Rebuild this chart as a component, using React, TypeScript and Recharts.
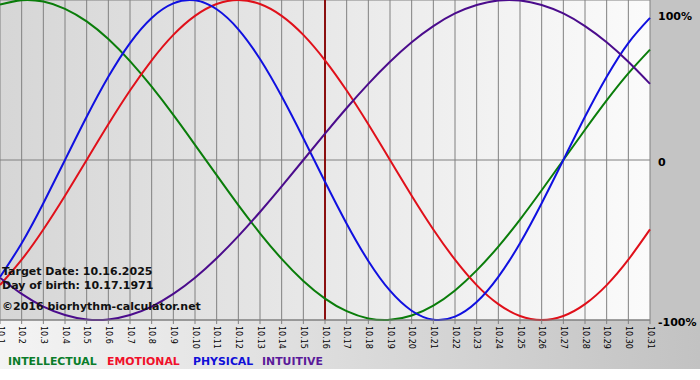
import { LineChart, Line, XAxis, YAxis, CartesianGrid, ReferenceLine } from 'recharts';

// days of October 2025 shown on the x axis
const days = [1, 2, 3, 4, 5, 6, 7, 8, 9, 10, 11, 12, 13, 14, 15, 16, 17, 18, 19, 20, 21, 22, 23, 24, 25, 26, 27, 28, 29, 30, 31];

// cycle values in percent, one per day
const intellectual = [97.2, 99.9, 99.0, 94.5, 86.6, 75.6, 61.8, 45.8, 28.2, 9.5, -9.5, -28.2, -45.8, -61.8, -75.6, -86.6, -94.5, -99.0, -99.9, -97.2, -91.0, -81.5, -69.0, -54.1, -37.2, -18.9, 0, 18.9, 37.2, 54.1, 69.0];
const emotional = [-78.2, -62.3, -43.4, -22.3, 0, 22.3, 43.4, 62.3, 78.2, 90.1, 97.5, 100, 97.5, 90.1, 78.2, 62.3, 43.4, 22.3, 0, -22.3, -43.4, -62.3, -78.2, -90.1, -97.5, -100, -97.5, -90.1, -78.2, -62.3, -43.4];
const physical = [-73.1, -52.0, -27.0, 0, 27.0, 52.0, 73.1, 88.8, 97.9, 99.8, 94.2, 81.7, 63.1, 39.8, 13.6, -13.6, -39.8, -63.1, -81.7, -94.2, -99.8, -97.9, -88.8, -73.1, -52.0, -27.0, 0, 27.0, 52.0, 73.1, 88.8];
const intuitive = [-73.6, -83.7, -91.6, -96.9, -99.7, -99.7, -96.9, -91.6, -83.7, -73.6, -61.4, -47.6, -32.5, -16.5, 0, 16.5, 32.5, 47.6, 61.4, 73.6, 83.7, 91.6, 96.9, 99.7, 99.7, 96.9, 91.6, 83.7, 73.6, 61.4, 47.6];

const yTicks = [-100, 0, 100];
const yLabels: Record<number, string> = { '-100': '-100%', '0': '0', '100': '100%' };
const targetDay = 16;

const series = [
  { key: 'intellectual', label: 'INTELLECTUAL', color: '#0a7d0a', legend: '#0a7d2a' },
  { key: 'emotional', label: 'EMOTIONAL', color: '#e0101a', legend: '#f0102a' },
  { key: 'physical', label: 'PHYSICAL', color: '#1010e0', legend: '#1010d8' },
  { key: 'intuitive', label: 'INTUITIVE', color: '#4b0c8c', legend: '#5a1a9a' },
];

const data = days.map((d, i) => ({
  day: d,
  intellectual: intellectual[i],
  emotional: emotional[i],
  physical: physical[i],
  intuitive: intuitive[i],
}));

const font = '"DejaVu Sans", Verdana, sans-serif';

function DayTick(props: any) {
  const { x, y, payload } = props;
  return (
    <text
      x={x}
      y={y}
      transform={`rotate(90, ${x}, ${y})`}
      textAnchor="start"
      dominantBaseline="central"
      fontFamily={font}
      fontSize={8}
      fill="#000"
    >
      {`10.${payload.value}`}
    </text>
  );
}

function PercentTick(props: any) {
  const { x, y, payload } = props;
  const dy = payload.value === 100 ? 7 : 2;
  return (
    <text
      x={x}
      y={y + dy}
      textAnchor="start"
      dominantBaseline="central"
      fontFamily={font}
      fontSize={11}
      fontWeight="bold"
      fill="#000"
    >
      {yLabels[payload.value]}
    </text>
  );
}

const infoStyle: React.CSSProperties = {
  position: 'absolute',
  left: 2,
  fontFamily: font,
  fontWeight: 'bold',
  fontSize: 11,
  lineHeight: '13px',
  color: '#111',
  whiteSpace: 'nowrap',
};

const legendX = [8, 107, 193, 262];

export default function App() {
  return (
    <div style={{ position: 'absolute', left: 0, top: 0, width: 700, height: 380, background: '#fff', overflow: 'hidden' }}>
      <div style={{ position: 'absolute', left: 0, top: 0, width: 700, height: 369, background: 'linear-gradient(to right, #f4f4f4, #c2c2c2)' }} />
      <div style={{ position: 'absolute', left: 650, top: 0, width: 50, height: 321, background: '#c4c4c4' }} />
      <div style={{ position: 'absolute', left: 0, top: 0 }}>
        <LineChart width={700} height={369} data={data} margin={{ top: 0, right: 0, left: 0, bottom: 0 }}>
          <defs>
            <linearGradient id="plotBg" x1="0" y1="0" x2="1" y2="0">
              <stop offset="0%" stopColor="#d6d6d6" />
              <stop offset="100%" stopColor="#fbfbfb" />
            </linearGradient>
          </defs>
          <CartesianGrid stroke="#808080" fill="url(#plotBg)" fillOpacity={1} />
          <XAxis
            dataKey="day"
            type="number"
            domain={[1, 31]}
            ticks={days}
            interval={0}
            height={49}
            stroke="#808080"
            tickSize={4}
            tickMargin={2}
            tick={<DayTick />}
          />
          <YAxis
            orientation="right"
            width={50}
            domain={[-100, 100]}
            ticks={yTicks}
            axisLine={false}
            tickLine={false}
            tick={<PercentTick />}
          />
          <ReferenceLine x={targetDay} stroke="#8b1010" strokeWidth={2} />
          {series.map(s => (
            <Line
              key={s.key}
              type="natural"
              dataKey={s.key}
              stroke={s.color}
              strokeWidth={2}
              dot={false}
              activeDot={false}
              isAnimationActive={false}
            />
          ))}
        </LineChart>
      </div>
      <div style={{ ...infoStyle, top: 265 }}>Target Date: 10.16.2025</div>
      <div style={{ ...infoStyle, top: 279 }}>Day of birth: 10.17.1971</div>
      <div style={{ ...infoStyle, top: 300 }}>©2016 biorhythm-calculator.net</div>
      {series.map((s, i) => (
        <div
          key={s.key}
          style={{
            position: 'absolute',
            left: legendX[i],
            top: 355,
            fontFamily: font,
            fontWeight: 'bold',
            fontSize: 10.9,
            lineHeight: '14px',
            color: s.legend,
            whiteSpace: 'nowrap',
          }}
        >
          {s.label}
        </div>
      ))}
    </div>
  );
}
